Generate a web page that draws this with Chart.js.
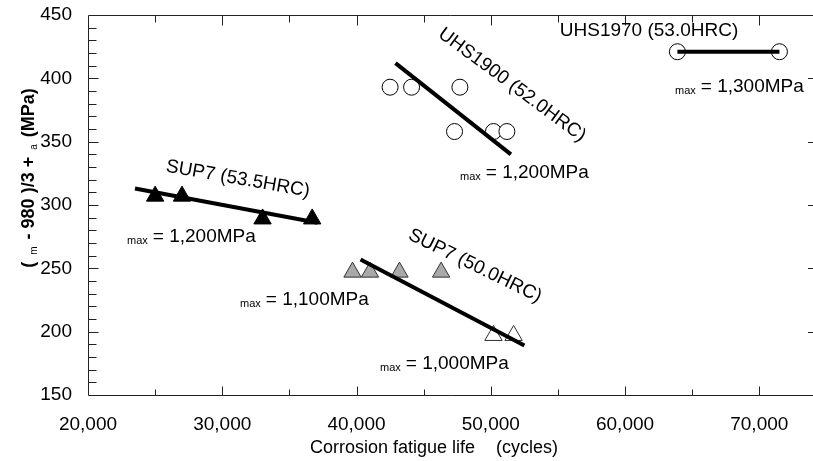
<!DOCTYPE html>
<html>
<head>
<meta charset="utf-8">
<script src="https://cdn.jsdelivr.net/npm/chart.js@4.4.0/dist/chart.umd.min.js"></script>
<style>
body { margin: 0; background: #fff; }
canvas { display: block; }
</style>
</head>
<body>
<canvas id="myChart" width="813" height="461"></canvas>
<script>
// SUP7 (53.5HRC), smax = 1,200MPa
let sup7HardLife = [25000, 27000, 33000, 36700];
let sup7HardStress = [307, 307, 289, 289];
// SUP7 (50.0HRC), smax = 1,100MPa and 1,000MPa
let sup7SoftHighLife = [39700, 41000, 43200, 46300];
let sup7SoftHighStress = [247, 247, 247, 247];
let sup7SoftLowLife = [50200, 51700];
let sup7SoftLowStress = [197, 197];
// UHS1900 (52.0HRC)
let uhs1900Life = [42500, 44100, 47700, 47300, 50200, 51200];
let uhs1900Stress = [393, 393, 393, 358, 358, 358];
// UHS1970 (53.0HRC)
let uhs1970Life = [63900, 71500];
let uhs1970Stress = [421, 421];

// trend lines (end points)
let fitSup7HardLife = [23500, 37100];
let fitSup7HardStress = [313, 286];
let fitSup7SoftLife = [40300, 52500];
let fitSup7SoftStress = [257, 189];
let fitUhs1900Life = [42900, 51500];
let fitUhs1900Stress = [412, 340];

let xTickValues = [20000, 30000, 40000, 50000, 60000, 70000];
let yTickValues = [150, 200, 250, 300, 350, 400, 450];

const FONT = "'Liberation Sans', Arial, sans-serif";

function pts(xs, ys) {
	return xs.map((x, i) => ({ x: x, y: ys[i] }));
}

function markers(xs, ys, style, radius, fill, border) {
	return {
		data: pts(xs, ys),
		pointStyle: style,
		pointRadius: radius,
		pointBackgroundColor: fill,
		pointBorderColor: border,
		pointBorderWidth: 1,
		showLine: false,
		order: 2
	};
}

function trend(xs, ys) {
	return {
		data: pts(xs, ys),
		showLine: true,
		borderColor: '#000',
		borderWidth: 4,
		pointRadius: 0,
		order: 1
	};
}

// frame and inward tick marks
const frame = {
	id: 'frame',
	beforeDatasetsDraw(chart) {
		const ctx = chart.ctx, a = chart.chartArea;
		const xs = chart.scales.x, ys = chart.scales.y;
		ctx.save();
		ctx.strokeStyle = '#222';
		ctx.lineWidth = 1;
		ctx.beginPath();
		const L = Math.round(a.left) + 0.5, T = Math.round(a.top) + 0.5, B = Math.round(a.bottom) + 0.5;
		ctx.moveTo(a.right, T); ctx.lineTo(L, T); ctx.lineTo(L, B); ctx.lineTo(a.right, B);
		for (let v = 25000; v <= 70000; v += 5000) {
			const px = Math.round(xs.getPixelForValue(v)) + 0.5;
			const major = v % 10000 === 0;
			ctx.moveTo(px, B); ctx.lineTo(px, B - (major ? 9 : 6));
			ctx.moveTo(px, T); ctx.lineTo(px, T + (major ? 10 : 7));
		}
		for (let v = 160; v <= 440; v += 10) {
			const py = Math.round(ys.getPixelForValue(v)) + 0.5;
			ctx.moveTo(L, py); ctx.lineTo(L + (v % 50 === 0 ? 10 : 8), py);
		}
		for (let v = 200; v <= 400; v += 50) {
			const py = Math.round(ys.getPixelForValue(v)) + 0.5;
			ctx.moveTo(a.right, py); ctx.lineTo(a.right - 5, py);
		}
		ctx.stroke();
		ctx.restore();
	}
};

function smaxLabel(ctx, x, y, text) {
	ctx.textAlign = 'left';
	ctx.textBaseline = 'alphabetic';
	ctx.font = '11px ' + FONT;
	ctx.fillText('max', x, y + 2);
	const w = ctx.measureText('max').width;
	ctx.font = '19px ' + FONT;
	ctx.fillText('= ' + text, x + w + 5, y);
}

function tilted(ctx, x, y, deg, text) {
	ctx.save();
	ctx.translate(x, y);
	ctx.rotate(deg * Math.PI / 180);
	ctx.font = '19px ' + FONT;
	ctx.textAlign = 'center';
	ctx.textBaseline = 'middle';
	ctx.fillText(text, 0, 0);
	ctx.restore();
}

// series names, stress levels and axis titles
const notes = {
	id: 'notes',
	afterDatasetsDraw(chart) {
		const ctx = chart.ctx;
		ctx.save();
		ctx.fillStyle = '#000';
		tilted(ctx, 238, 179, 10, 'SUP7 (53.5HRC)');
		tilted(ctx, 475, 266, 26, 'SUP7 (50.0HRC)');
		tilted(ctx, 512, 85, 36.5, 'UHS1900 (52.0HRC)');
		tilted(ctx, 649, 31, 0, 'UHS1970 (53.0HRC)');

		smaxLabel(ctx, 127, 242, '1,200MPa');
		smaxLabel(ctx, 240, 305, '1,100MPa');
		smaxLabel(ctx, 380, 369, '1,000MPa');
		smaxLabel(ctx, 460, 178, '1,200MPa');
		smaxLabel(ctx, 675, 92, '1,300MPa');

		// x title
		ctx.font = '18px ' + FONT;
		ctx.textBaseline = 'alphabetic';
		ctx.textAlign = 'left';
		ctx.fillText('Corrosion fatigue life', 310, 453);
		ctx.textAlign = 'right';
		ctx.fillText('(cycles)', 558, 453);

		// y title, rotated, with subscripts
		const parts = [
			['( ', false], ['m', true], [' - 980 )/3 + ', false], ['a', true], [' (MPa)', false]
		];
		const big = 'bold 18px ' + FONT, small = '10px ' + FONT;
		let total = 0;
		parts.forEach(p => { ctx.font = p[1] ? small : big; total += ctx.measureText(p[0]).width + (p[1] ? 4 : 0); });
		ctx.translate(34, 178);
		ctx.rotate(-Math.PI / 2);
		ctx.textAlign = 'left';
		let cx = -total / 2;
		parts.forEach(p => {
			ctx.font = p[1] ? small : big;
			ctx.fillText(p[0], cx + (p[1] ? 2 : 0), p[1] ? 3 : 0);
			cx += ctx.measureText(p[0]).width + (p[1] ? 4 : 0);
		});
		ctx.restore();
	}
};

let config = {
	type: 'scatter',
	data: {
		datasets: [
			trend(fitSup7HardLife, fitSup7HardStress),
			trend(fitSup7SoftLife, fitSup7SoftStress),
			trend(fitUhs1900Life, fitUhs1900Stress),
			trend(uhs1970Life, uhs1970Stress),
			markers(sup7HardLife, sup7HardStress, 'triangle', 10, '#000', '#000'),
			markers(sup7SoftHighLife, sup7SoftHighStress, 'triangle', 10, '#a9a9a9', '#333'),
			markers(sup7SoftLowLife, sup7SoftLowStress, 'triangle', 10, '#fff', '#333'),
			markers(uhs1900Life, uhs1900Stress, 'circle', 8, '#fff', '#000'),
			markers(uhs1970Life, uhs1970Stress, 'circle', 8, '#fff', '#000')
		]
	},
	options: {
		responsive: false,
		animation: false,
		layout: { autoPadding: false, padding: { top: 15, right: 0, left: 0, bottom: 0 } },
		plugins: {
			legend: { display: false },
			tooltip: { enabled: false }
		},
		scales: {
			x: {
				type: 'linear',
				min: 20000,
				max: 74000,
				grid: { display: false },
				border: { display: false },
				afterBuildTicks: s => { s.ticks = xTickValues.map(v => ({ value: v })); },
				afterFit: s => { s.height = 66; s.paddingLeft = 0; s.paddingRight = 0; },
				ticks: {
					padding: 10,
					color: '#000',
					font: { family: FONT, size: 19 },
					callback: v => v.toLocaleString('en-US')
				}
			},
			y: {
				min: 150,
				max: 450,
				grid: { display: false },
				border: { display: false },
				afterBuildTicks: s => { s.ticks = yTickValues.map(v => ({ value: v })); },
				afterFit: s => { s.width = 88; s.paddingTop = 0; s.paddingBottom = 0; },
				ticks: {
					padding: 8,
					color: '#000',
					font: { family: FONT, size: 19 }
				}
			}
		}
	},
	plugins: [frame, notes]
};

let chart = new Chart('myChart', config);
</script>
</body>
</html>
